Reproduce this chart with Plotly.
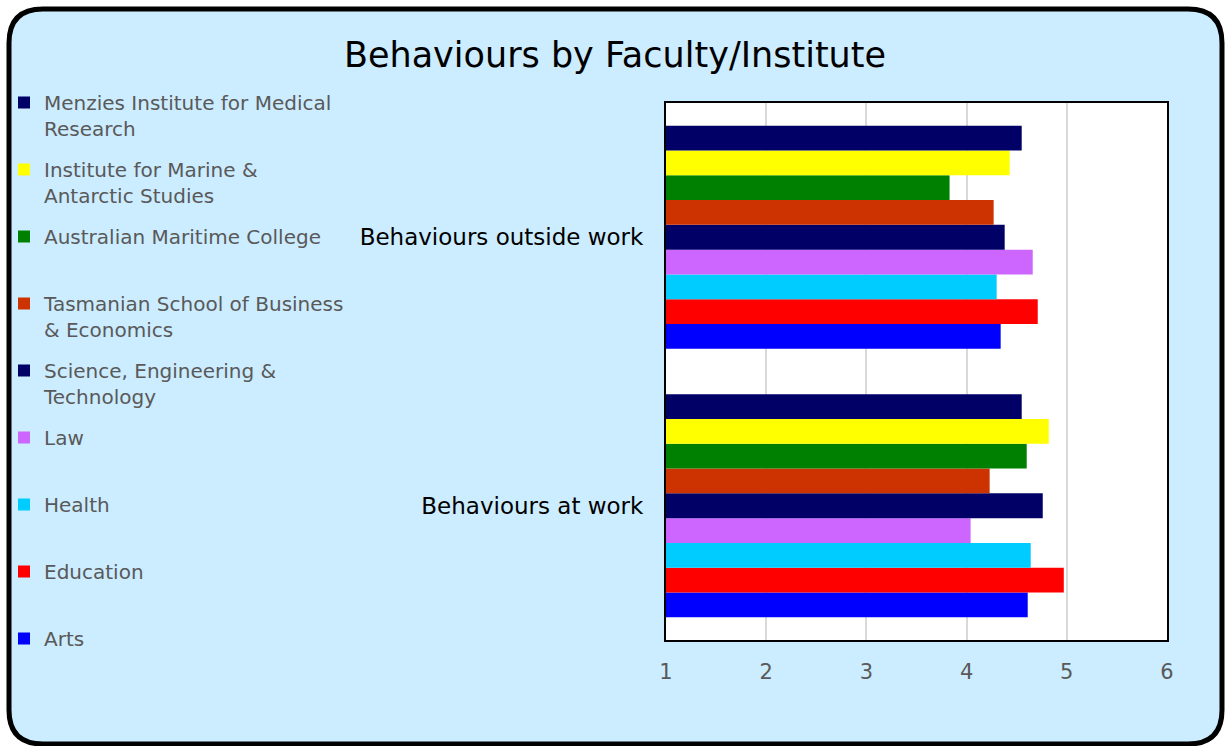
import plotly.graph_objects as go

W, H = 1230, 746
ML, MR, MT, MB = 666, 63, 103, 106

categories = ["Behaviours at work", "Behaviours outside work"]

# faculty names (bottom-most bar first)
faculties = [
    "Arts",
    "Education",
    "Health",
    "Law",
    "Science, Engineering &<br>Technology",
    "Tasmanian School of Business<br>& Economics",
    "Australian Maritime College",
    "Institute for Marine &<br>Antarctic Studies",
    "Menzies Institute for Medical<br>Research",
]
colors = ["#0000FF", "#FF0000", "#00CCFF", "#CC66FF", "#000066",
          "#CC3300", "#008000", "#FFFF00", "#000066"]

# values: [at work, outside work]
arts = [4.61, 4.34]
education = [4.97, 4.71]
health = [4.64, 4.30]
law = [4.04, 4.66]
set_ = [4.76, 4.38]
tsbe = [4.23, 4.27]
amc = [4.60, 3.83]
imas = [4.82, 4.43]
menzies = [4.55, 4.55]
values = [arts, education, health, law, set_, tsbe, amc, imas, menzies]

x_ticks = [1, 2, 3, 4, 5, 6]

fig = go.Figure()
n = len(faculties)
for i, (name, col, vals) in enumerate(zip(faculties, colors, values)):
    label = name if "<br>" in name else name + "<br> "
    fig.add_trace(go.Bar(
        y=categories, x=vals, orientation="h", name=label,
        marker=dict(color=col, line=dict(width=0)),
        legendgroup=f"g{i}", legendrank=n - i,
    ))

def px2paper(px, py):
    pw = W - ML - MR
    ph = H - MT - MB
    return (px - ML) / pw, (H - MB - py) / ph

# rounded frame
x0, y0, x1, y1, r = 9, 9, 1222, 744, 34
def P(px, py):
    a, b = px2paper(px, py)
    return f"{a:.5f},{b:.5f}"
path = (f"M{P(x0 + r, y0)} L{P(x1 - r, y0)} Q{P(x1, y0)} {P(x1, y0 + r)} "
        f"L{P(x1, y1 - r)} Q{P(x1, y1)} {P(x1 - r, y1)} "
        f"L{P(x0 + r, y1)} Q{P(x0, y1)} {P(x0, y1 - r)} "
        f"L{P(x0, y0 + r)} Q{P(x0, y0)} {P(x0 + r, y0)} Z")

FONT = "DejaVu Sans"

fig.update_layout(
    width=W, height=H, autosize=False,
    margin=dict(l=ML, r=MR, t=MT, b=MB, pad=0, autoexpand=False),
    paper_bgcolor="white",
    plot_bgcolor="rgba(0,0,0,0)",
    barmode="group", bargap=0.17, bargroupgap=0,
    font=dict(family=FONT),
    title=dict(text="Behaviours by Faculty/Institute", x=0.5, xref="container",
               xanchor="center", y=1 - 55 / H, yref="container", yanchor="middle",
               font=dict(size=35, color="black", family=FONT)),
    xaxis=dict(range=[1, 6], tickvals=x_ticks, ticktext=[str(v) for v in x_ticks],
               showgrid=True, gridcolor="#d9d9d9", gridwidth=2, zeroline=False,
               showline=True, linecolor="black", linewidth=2, mirror=True,
               ticks="", ticklabelstandoff=12, automargin=False,
               tickfont=dict(size=21, color="#595959", family=FONT)),
    yaxis=dict(categoryorder="array", categoryarray=categories,
               showgrid=False, zeroline=False, automargin=False,
               showline=True, linecolor="black", linewidth=2, mirror=True,
               ticks="", ticklabelstandoff=16,
               tickfont=dict(size=23, color="black", family=FONT)),
    legend=dict(x=px2paper(4, 0)[0], xanchor="left",
                y=px2paper(0, 83)[1], yanchor="top",
                traceorder="grouped", tracegroupgap=12,
                valign="top", bgcolor="rgba(0,0,0,0)",
                font=dict(size=20, color="#595959", family=FONT),
                itemwidth=30, maxheight=680),
    shapes=[
        dict(type="path", path=path, xref="paper", yref="paper", layer="below",
             fillcolor="#CCECFF", line=dict(color="black", width=5)),
        dict(type="rect", xref="x domain", yref="y domain", x0=0, x1=1, y0=0, y1=1,
             layer="below", fillcolor="white", line=dict(width=0)),
    ],
)

fig.write_html("out.html", config={"displayModeBar": False},
               post_script="document.body.style.margin='0';")
